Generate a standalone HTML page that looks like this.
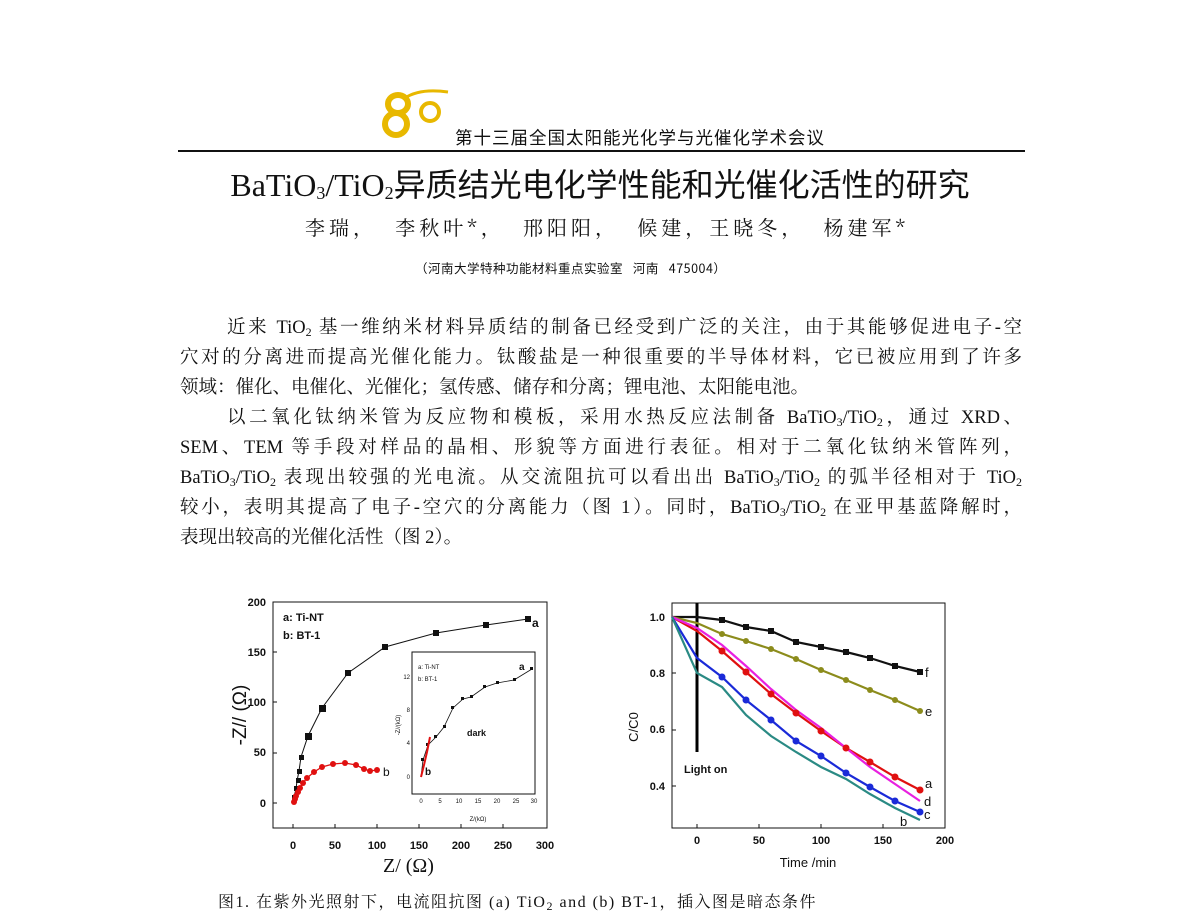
<!DOCTYPE html>
<html><head><meta charset="utf-8"><style>
body{margin:0;background:#fff;}
#p{position:relative;width:1200px;height:920px;overflow:hidden;background:#fff;font-family:"Liberation Serif","Noto Serif CJK SC","Noto Sans CJK SC",serif;color:#111;}
.l{position:absolute;font-size:18.5px;line-height:22px;white-space:nowrap;}
.j{text-align:justify;text-align-last:justify;white-space:normal;height:22px;overflow:hidden;}
sub{font-size:12px;vertical-align:-3px;line-height:0;}
</style></head><body><div id="p">
<svg style="position:absolute;left:0;top:0" width="1200" height="920" font-family="Liberation Sans, Arial, sans-serif">
<g fill="none" stroke="#e8b800" stroke-width="6">
<ellipse cx="398" cy="104" rx="10" ry="9"/><ellipse cx="396" cy="124" rx="11" ry="11"/>
<path d="M405 98 Q420 88 448 92" stroke-width="3"/>
<circle cx="430" cy="112" r="9" stroke-width="4"/>
</g>
<line x1="178" y1="151" x2="1025" y2="151" stroke="#111" stroke-width="2"/>
<g font-weight="bold" font-size="11" fill="#111">
<rect x="273" y="602" width="274" height="226" fill="none" stroke="#111" stroke-width="1"/>
<g text-anchor="end"><text x="266" y="606">200</text><text x="266" y="656">150</text><text x="266" y="706">100</text><text x="266" y="756">50</text><text x="266" y="807">0</text></g>
<g text-anchor="middle"><text x="293" y="849">0</text><text x="335" y="849">50</text><text x="377" y="849">100</text><text x="419" y="849">150</text><text x="461" y="849">200</text><text x="503" y="849">250</text><text x="545" y="849">300</text></g>
<g stroke="#111"><line x1="273" y1="803" x2="277" y2="803"/><line x1="273" y1="753" x2="277" y2="753"/><line x1="273" y1="702" x2="277" y2="702"/><line x1="273" y1="652" x2="277" y2="652"/><line x1="293" y1="828" x2="293" y2="824"/><line x1="335" y1="828" x2="335" y2="824"/><line x1="377" y1="828" x2="377" y2="824"/><line x1="419" y1="828" x2="419" y2="824"/><line x1="461" y1="828" x2="461" y2="824"/><line x1="503" y1="828" x2="503" y2="824"/></g>
<text x="283" y="621" font-size="11">a: Ti-NT</text><text x="283" y="639" font-size="11">b: BT-1</text>
<text x="383" y="872" font-size="20" font-weight="normal" font-family="Liberation Serif,serif">Z/  (Ω)</text>
<text transform="translate(246,715) rotate(-90)" text-anchor="middle" font-size="19" font-weight="normal">-Z// (Ω)</text>
<polyline fill="none" stroke="#111" stroke-width="1" points="293,803 294,798 295,793 296,789 297,781 299,771 301,757 308,736 322,708 348,673 385,647 436,633 486,625 528,619"/>
<g fill="#111"><rect x="292" y="795" width="5" height="5"/><rect x="294" y="786" width="5" height="5"/><rect x="296" y="778" width="5" height="5"/><rect x="297" y="769" width="5" height="5"/><rect x="299" y="755" width="5" height="5"/><rect x="305" y="733" width="7" height="7"/><rect x="319" y="705" width="7" height="7"/><rect x="345" y="670" width="6" height="6"/><rect x="382" y="644" width="6" height="6"/><rect x="433" y="630" width="6" height="6"/><rect x="483" y="622" width="6" height="6"/><rect x="525" y="616" width="6" height="6"/></g>
<text x="532" y="627" font-size="12">a</text>
<polyline fill="none" stroke="#e01010" stroke-width="1.3" points="294,803 295,800 296,797 297,793 300,788 303,783 307,778 314,772 322,767 333,764 345,763 356,765 364,769 370,771 377,770"/>
<g fill="#e01010"><circle cx="294" cy="802" r="3"/><circle cx="295" cy="799" r="3"/><circle cx="296" cy="796" r="3"/><circle cx="298" cy="792" r="3"/><circle cx="300" cy="788" r="3"/><circle cx="303" cy="783" r="3"/><circle cx="307" cy="778" r="3"/><circle cx="314" cy="772" r="3"/><circle cx="322" cy="767" r="3"/><circle cx="333" cy="764" r="3"/><circle cx="345" cy="763" r="3"/><circle cx="356" cy="765" r="3"/><circle cx="364" cy="769" r="3"/><circle cx="370" cy="771" r="3"/><circle cx="377" cy="770" r="3"/></g>
<text x="383" y="776" font-size="12" font-weight="normal">b</text>
<rect x="412" y="652" width="123" height="142" fill="#fff" stroke="#111" stroke-width="1"/>
<g font-size="6" font-weight="normal"><text x="418" y="669">a: Ti-NT</text><text x="418" y="681">b: BT-1</text>
<g text-anchor="end"><text x="410" y="679">12</text><text x="410" y="712">8</text><text x="410" y="745">4</text><text x="410" y="779">0</text></g>
<g text-anchor="middle"><text x="421" y="803">0</text><text x="440" y="803">5</text><text x="459" y="803">10</text><text x="478" y="803">15</text><text x="497" y="803">20</text><text x="516" y="803">25</text><text x="534" y="803">30</text><text x="478" y="821">Z/(kΩ)</text></g>
<text transform="translate(400,725) rotate(-90)" text-anchor="middle">-Z//(kΩ)</text></g>
<text x="467" y="736" font-size="9">dark</text><text x="519" y="670" font-size="10">a</text><text x="425" y="775" font-size="10">b</text>
<polyline fill="none" stroke="#111" stroke-width="0.8" points="421,777 423,760 428,745 436,737 444,727 453,708 463,699 471,697 485,687 497,683 514,680 532,669"/>
<g fill="#111"><rect x="421" y="758" width="3" height="3"/><rect x="426" y="743" width="3" height="3"/><rect x="434" y="735" width="3" height="3"/><rect x="443" y="725" width="3" height="3"/><rect x="451" y="706" width="3" height="3"/><rect x="461" y="697" width="3" height="3"/><rect x="470" y="695" width="3" height="3"/><rect x="483" y="685" width="3" height="3"/><rect x="496" y="681" width="3" height="3"/><rect x="513" y="678" width="3" height="3"/><rect x="530" y="667" width="3" height="3"/></g>
<polyline fill="none" stroke="#e01010" stroke-width="2" points="421,777 424,765 427,752 430,737"/>
</g>
<g font-weight="bold" font-size="11" fill="#111">
<rect x="672" y="603" width="273" height="225" fill="none" stroke="#111" stroke-width="1"/>
<g text-anchor="end"><text x="665" y="621">1.0</text><text x="665" y="677">0.8</text><text x="665" y="733">0.6</text><text x="665" y="790">0.4</text></g>
<g text-anchor="middle"><text x="697" y="844">0</text><text x="759" y="844">50</text><text x="821" y="844">100</text><text x="883" y="844">150</text><text x="945" y="844">200</text></g>
<g stroke="#111"><line x1="672" y1="617" x2="676" y2="617"/><line x1="672" y1="673" x2="676" y2="673"/><line x1="672" y1="730" x2="676" y2="730"/><line x1="672" y1="786" x2="676" y2="786"/><line x1="697" y1="828" x2="697" y2="824"/><line x1="759" y1="828" x2="759" y2="824"/><line x1="821" y1="828" x2="821" y2="824"/><line x1="883" y1="828" x2="883" y2="824"/></g>
<text x="808" y="867" text-anchor="middle" font-size="13" font-weight="normal">Time /min</text>
<text transform="translate(638,727) rotate(-90)" text-anchor="middle" font-size="13" font-weight="normal">C/C0</text>
<text x="684" y="773" font-size="11">Light on</text>
<line x1="697" y1="603" x2="697" y2="752" stroke="#000" stroke-width="3"/>
<g fill="none" stroke-width="2.2" stroke-dasharray="none">
<polyline stroke="#111" points="672,617 697,617 722,620 746,627 771,631 796,642 821,647 846,652 870,658 895,666 920,672"/>
<polyline stroke="#8c8c1c" points="672,617 697,623 722,634 746,641 771,649 796,659 821,670 846,680 870,690 895,700 920,711"/>
<polyline stroke="#e01010" points="672,617 697,631 722,651 746,672 771,694 796,713 821,731 846,748 870,762 895,777 920,790"/>
<polyline stroke="#e820e0" points="672,617 697,628 722,645 746,666 771,689 796,710 821,728 846,748 870,767 895,784 920,801"/>
<polyline stroke="#1a2ad8" points="672,617 697,658 722,677 746,700 771,720 796,741 821,756 846,773 870,787 895,801 920,812"/>
<polyline stroke="#2a8a84" points="672,617 697,673 722,687 746,715 771,736 796,752 821,767 846,779 870,794 895,808 920,820"/>
</g>
<g>
<g fill="#111"><rect x="719" y="617" width="6" height="6"/><rect x="743" y="624" width="6" height="6"/><rect x="768" y="628" width="6" height="6"/><rect x="793" y="639" width="6" height="6"/><rect x="818" y="644" width="6" height="6"/><rect x="843" y="649" width="6" height="6"/><rect x="867" y="655" width="6" height="6"/><rect x="892" y="663" width="6" height="6"/><rect x="917" y="669" width="6" height="6"/></g>
<g fill="#8c8c1c"><circle cx="722" cy="634" r="3"/><circle cx="746" cy="641" r="3"/><circle cx="771" cy="649" r="3"/><circle cx="796" cy="659" r="3"/><circle cx="821" cy="670" r="3"/><circle cx="846" cy="680" r="3"/><circle cx="870" cy="690" r="3"/><circle cx="895" cy="700" r="3"/><circle cx="920" cy="711" r="3"/></g>
<g fill="#e01010"><circle cx="722" cy="651" r="3.5"/><circle cx="746" cy="672" r="3.5"/><circle cx="771" cy="694" r="3.5"/><circle cx="796" cy="713" r="3.5"/><circle cx="821" cy="731" r="3.5"/><circle cx="846" cy="748" r="3.5"/><circle cx="870" cy="762" r="3.5"/><circle cx="895" cy="777" r="3.5"/><circle cx="920" cy="790" r="3.5"/></g>
<g fill="#1a2ad8"><circle cx="722" cy="677" r="3.5"/><circle cx="746" cy="700" r="3.5"/><circle cx="771" cy="720" r="3.5"/><circle cx="796" cy="741" r="3.5"/><circle cx="821" cy="756" r="3.5"/><circle cx="846" cy="773" r="3.5"/><circle cx="870" cy="787" r="3.5"/><circle cx="895" cy="801" r="3.5"/><circle cx="920" cy="812" r="3.5"/></g>
</g>
<g font-size="13" font-weight="normal"><text x="925" y="677">f</text><text x="925" y="716">e</text><text x="925" y="788">a</text><text x="924" y="806">d</text><text x="924" y="819">c</text><text x="900" y="826">b</text></g>
</g>
</svg>
<div class="l" style="left:455px;top:127px;font-size:17.5px;font-family:'Noto Sans CJK SC',sans-serif;letter-spacing:1px">第十三届全国太阳能光化学与光催化学术会议</div>
<div class="l" style="left:0;width:1200px;text-align:center;top:166px;font-size:32px;line-height:38px;font-family:'Liberation Serif','Noto Sans CJK SC',serif">BaTiO<sub style="font-size:18px">3</sub>/TiO<sub style="font-size:18px">2</sub>异质结光电化学性能和光催化活性的研究</div>
<div class="l" style="left:305px;top:216px;font-size:20px;font-family:'Noto Serif CJK SC',serif;letter-spacing:4px">李瑞，&nbsp;&nbsp;李秋叶*，&nbsp;&nbsp;邢阳阳，&nbsp;&nbsp;候建，王晓冬，&nbsp;&nbsp;杨建军*</div>
<div class="l" style="left:415px;top:257px;font-size:12.5px;font-family:'Noto Sans CJK SC',sans-serif;letter-spacing:0.5px">（河南大学特种功能材料重点实验室&nbsp;&nbsp;&nbsp;河南&nbsp;&nbsp;&nbsp;475004）</div>
<div class="l j" style="left:227px;width:795px;top:317px">近来 TiO<sub>2</sub> 基一维纳米材料异质结的制备已经受到广泛的关注，由于其能够促进电子-空</div>
<div class="l j" style="left:180px;width:842px;top:347px">穴对的分离进而提高光催化能力。钛酸盐是一种很重要的半导体材料，它已被应用到了许多</div>
<div class="l" style="left:180px;top:377px">领域：催化、电催化、光催化；氢传感、储存和分离；锂电池、太阳能电池。</div>
<div class="l j" style="left:227px;width:795px;top:407px">以二氧化钛纳米管为反应物和模板，采用水热反应法制备 BaTiO<sub>3</sub>/TiO<sub>2</sub>，通过 XRD、</div>
<div class="l j" style="left:180px;width:842px;top:437px">SEM、TEM 等手段对样品的晶相、形貌等方面进行表征。相对于二氧化钛纳米管阵列，</div>
<div class="l j" style="left:180px;width:842px;top:467px">BaTiO<sub>3</sub>/TiO<sub>2</sub> 表现出较强的光电流。从交流阻抗可以看出出 BaTiO<sub>3</sub>/TiO<sub>2</sub> 的弧半径相对于 TiO<sub>2</sub></div>
<div class="l j" style="left:180px;width:842px;top:497px">较小，表明其提高了电子-空穴的分离能力（图 1）。同时，BaTiO<sub>3</sub>/TiO<sub>2</sub> 在亚甲基蓝降解时，</div>
<div class="l" style="left:180px;top:527px">表现出较高的光催化活性（图 2）。</div>
<div class="l" style="left:218px;top:892px;font-size:16px;letter-spacing:1.5px">图1. 在紫外光照射下，电流阻抗图 (a) TiO<sub>2</sub> and (b) BT-1，插入图是暗态条件</div>
</div></body></html>
